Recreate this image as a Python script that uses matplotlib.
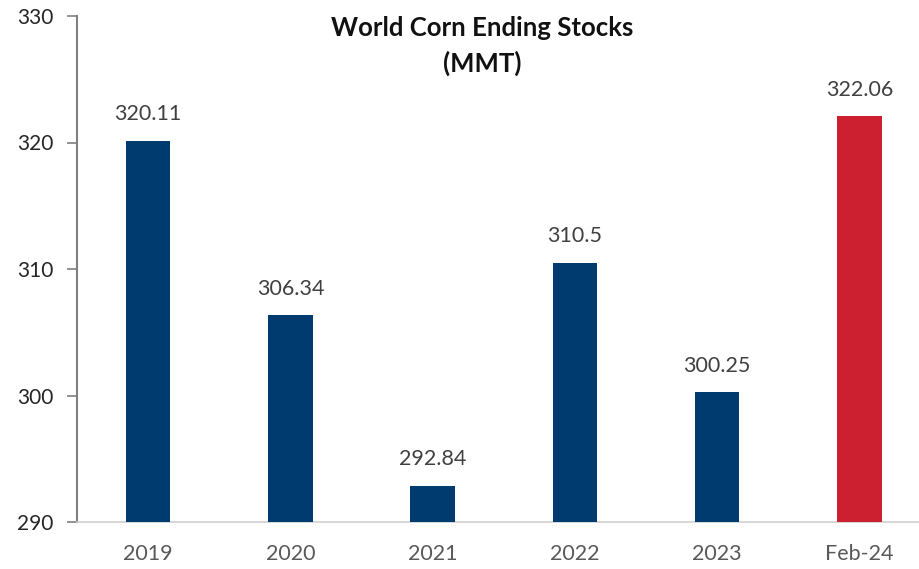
import matplotlib
matplotlib.use("Agg")
import matplotlib.pyplot as plt

categories = ["2019", "2020", "2021", "2022", "2023", "Feb-24"]
stocks = [320.11, 306.34, 292.84, 310.5, 300.25, 322.06]
value_labels = ["320.11", "306.34", "292.84", "310.5", "300.25", "322.06"]
y_ticks = [290, 300, 310, 320, 330]

NAVY = "#003B6F"
RED = "#CC1F2F"
colors = [NAVY] * 5 + [RED]

plt.rcParams["font.family"] = ["Lato", "DejaVu Sans"]

W, H = 920, 569
fig = plt.figure(figsize=(W / 100, H / 100), dpi=100)
ax = fig.add_axes([77 / W, 1 - 522 / H, (930.6 - 77) / W, (522 - 16) / H])

base = 290
x = list(range(len(categories)))
ax.bar(x, [v - base for v in stocks], bottom=base, width=0.313,
       color=colors, zorder=3)

for xi, v, lab in zip(x, stocks, value_labels):
    ax.annotate(lab, (xi, v), xytext=(0, 12), textcoords="offset points",
                ha="center", va="bottom", fontsize=15.5, color="#404040")

ax.set_xlim(-0.5, len(categories) - 0.5)
ax.set_ylim(290, 330)
ax.set_yticks(y_ticks)
ax.set_yticklabels([str(t) for t in y_ticks], fontsize=15, color="#262626")
ax.set_xticks(x)
ax.set_xticklabels(categories, fontsize=15.5, color="#595959")

ax.tick_params(axis="y", length=7, width=1.2, color="#808080", pad=10)
ax.tick_params(axis="x", length=0, pad=16)

for side in ("top", "right"):
    ax.spines[side].set_visible(False)
ax.spines["left"].set_color("#808080")
ax.spines["left"].set_linewidth(1.5)
ax.spines["bottom"].set_color("#D0D0D0")
ax.spines["bottom"].set_linewidth(1.2)

fig.text(482 / W, 1 - 46 / H, "World Corn Ending Stocks\n(MMT)",
         ha="center", va="center", fontsize=18.5, fontweight="bold",
         color="#111111", linespacing=1.5)

fig.savefig("out.png", dpi=100, facecolor="white")
